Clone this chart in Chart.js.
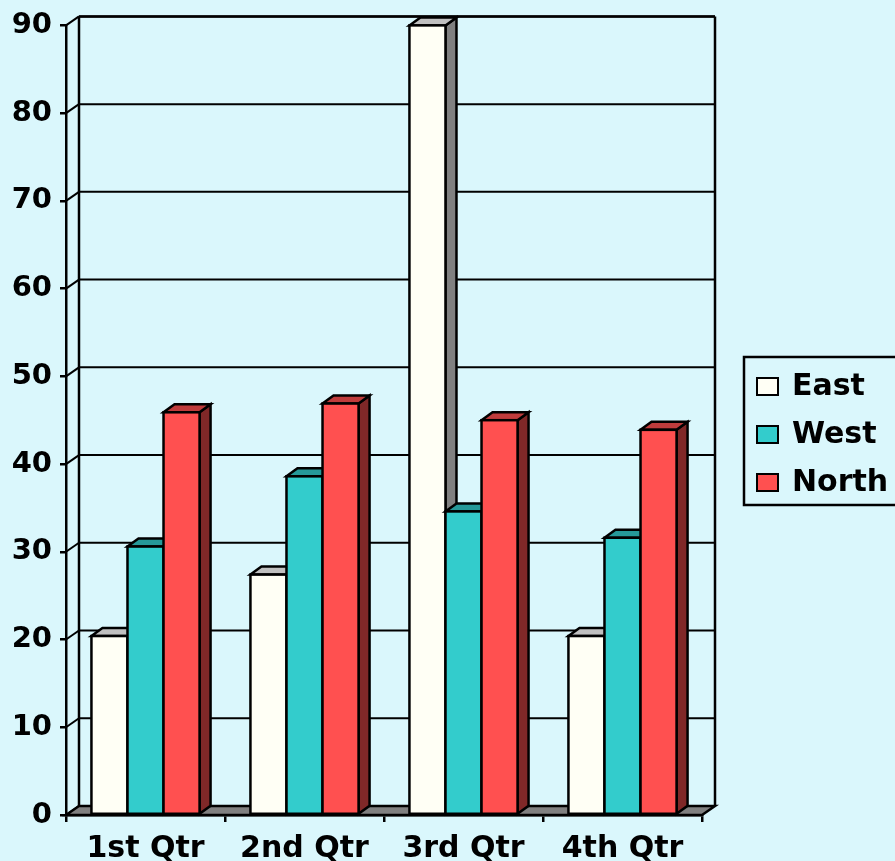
<!DOCTYPE html>
<html>
<head>
<meta charset="utf-8">
<title>Quarterly figures by region</title>
<script src="https://cdn.jsdelivr.net/npm/chart.js@4.4.1/dist/chart.umd.min.js"></script>
<style>
  html, body { margin: 0; padding: 0; background: #daf7fc; }
  #wrap { width: 895px; height: 861px; }
</style>
</head>
<body>
<div id="wrap"><canvas id="c" width="895" height="861"></canvas></div>
<script>
// Categories and series
const quarters = ['1st Qtr', '2nd Qtr', '3rd Qtr', '4th Qtr'];
const east  = [20.4, 27.4, 90, 20.4];
const west  = [30.6, 38.6, 34.6, 31.6];
const north = [45.9, 46.9, 45, 43.9];
const yTicks = [0, 10, 20, 30, 40, 50, 60, 70, 80, 90];

// Face colours: front, top, side
const palette = {
  East:  { front: '#fffff5', top: '#c0c0c0', side: '#808080' },
  West:  { front: '#33cccc', top: '#269999', side: '#1a6666' },
  North: { front: '#ff5050', top: '#bf3c3c', side: '#802828' }
};

const WALL_DX = 13, WALL_DY = -9;   // depth of back wall
const BAR_DX = 11, BAR_DY = -8;     // depth of each bar
const FONT = '"DejaVu Sans", sans-serif';
const EDGE = 2.5;                   // outline width

function poly(ctx, pts, fill) {
  ctx.beginPath();
  ctx.moveTo(pts[0][0], pts[0][1]);
  for (let i = 1; i < pts.length; i++) ctx.lineTo(pts[i][0], pts[i][1]);
  ctx.closePath();
  if (fill) { ctx.fillStyle = fill; ctx.fill(); }
  ctx.stroke();
}

// Walls, floor and extruded bars
const depth3d = {
  id: 'depth3d',
  beforeDatasetsDraw(chart) {
    const { ctx, chartArea: a, scales: { y } } = chart;
    ctx.save();
    ctx.strokeStyle = '#000';
    ctx.lineJoin = 'miter';

    const bl = a.left + WALL_DX, br = a.right + WALL_DX;
    // back wall gridlines and left wall edges
    ctx.lineWidth = 2;
    yTicks.forEach(v => {
      const py = y.getPixelForValue(v);
      ctx.beginPath();
      ctx.moveTo(bl, py + WALL_DY);
      ctx.lineTo(br, py + WALL_DY);
      ctx.stroke();
      ctx.beginPath();
      ctx.moveTo(a.left, py);
      ctx.lineTo(bl, py + WALL_DY);
      ctx.stroke();
    });
    ctx.lineWidth = EDGE;
    const topY = y.getPixelForValue(yTicks[yTicks.length - 1]) + WALL_DY;
    const botY = y.getPixelForValue(0) + WALL_DY;
    ctx.beginPath();
    ctx.moveTo(bl, topY); ctx.lineTo(bl, botY);
    ctx.moveTo(br, topY); ctx.lineTo(br, botY);
    ctx.moveTo(bl, topY); ctx.lineTo(br, topY);
    ctx.stroke();

    // floor
    const fy = y.getPixelForValue(0);
    poly(ctx, [[a.left, fy], [a.right, fy], [br, fy + WALL_DY], [bl, fy + WALL_DY]], '#808080');

    // bars, left to right within each category
    const metas = chart.data.datasets.map((d, i) => chart.getDatasetMeta(i));
    quarters.forEach((q, qi) => {
      metas.forEach((meta, di) => {
        const bar = meta.data[qi];
        const c = palette[chart.data.datasets[di].label];
        const p = bar.getProps(['x', 'y', 'base', 'width'], true);
        const l = p.x - p.width / 2, r = p.x + p.width / 2;
        const t = p.y, b = p.base;
        poly(ctx, [[r, t], [r + BAR_DX, t + BAR_DY], [r + BAR_DX, b + BAR_DY], [r, b]], c.side);
        poly(ctx, [[l, t], [l + BAR_DX, t + BAR_DY], [r + BAR_DX, t + BAR_DY], [r, t]], c.top);
        ctx.fillStyle = c.front;
        ctx.fillRect(l, t, r - l, b - t);
        ctx.strokeRect(l, t, r - l, b - t);
      });
    });
    ctx.restore();
    return false;
  },
  afterDraw(chart) {
    // boxed legend on the right
    const { ctx } = chart;
    ctx.save();
    ctx.strokeStyle = '#000';
    ctx.lineWidth = EDGE;
    ctx.strokeRect(744, 357, 200, 148);
    ctx.font = 'bold 30px ' + FONT;
    ctx.textBaseline = 'middle';
    ctx.textAlign = 'left';
    chart.data.datasets.forEach((ds, i) => {
      const cy = 386 + i * 48;
      ctx.fillStyle = ds.backgroundColor;
      ctx.lineWidth = 2;
      ctx.fillRect(757, cy - 8, 21, 17);
      ctx.strokeRect(757, cy - 8, 21, 17);
      ctx.fillStyle = '#000';
      ctx.fillText(ds.label, 792, cy + 1);
    });
    ctx.restore();
  }
};

new Chart(document.getElementById('c'), {
  type: 'bar',
  data: {
    labels: quarters,
    datasets: [
      { label: 'East',  data: east,  backgroundColor: palette.East.front },
      { label: 'West',  data: west,  backgroundColor: palette.West.front },
      { label: 'North', data: north, backgroundColor: palette.North.front }
    ]
  },
  options: {
    responsive: false,
    animation: false,
    events: [],
    categoryPercentage: 0.68,
    barPercentage: 1.0,
    layout: { padding: { top: 20, right: 193, left: 0, bottom: 0 } },
    plugins: { legend: { display: false }, tooltip: { enabled: false } },
    scales: {
      x: {
        afterFit(s) { s.height = 46; },
        grid: { offset: true, drawOnChartArea: false, color: '#000', lineWidth: EDGE, tickLength: 7 },
        border: { display: true, color: '#000', width: EDGE },
        ticks: { color: '#000', padding: 9, maxRotation: 0, font: { family: FONT, size: 30, weight: 'bold' } }
      },
      y: {
        min: 0, max: 90,
        afterFit(s) { s.width = 66; },
        afterBuildTicks(s) { s.ticks = yTicks.map(v => ({ value: v })); },
        grid: { drawOnChartArea: false, color: '#000', lineWidth: EDGE, tickLength: 6 },
        border: { display: true, color: '#000', width: EDGE },
        ticks: { color: '#000', padding: 8, font: { family: FONT, size: 29, weight: 'bold' } }
      }
    }
  },
  plugins: [depth3d]
});
</script>
</body>
</html>
